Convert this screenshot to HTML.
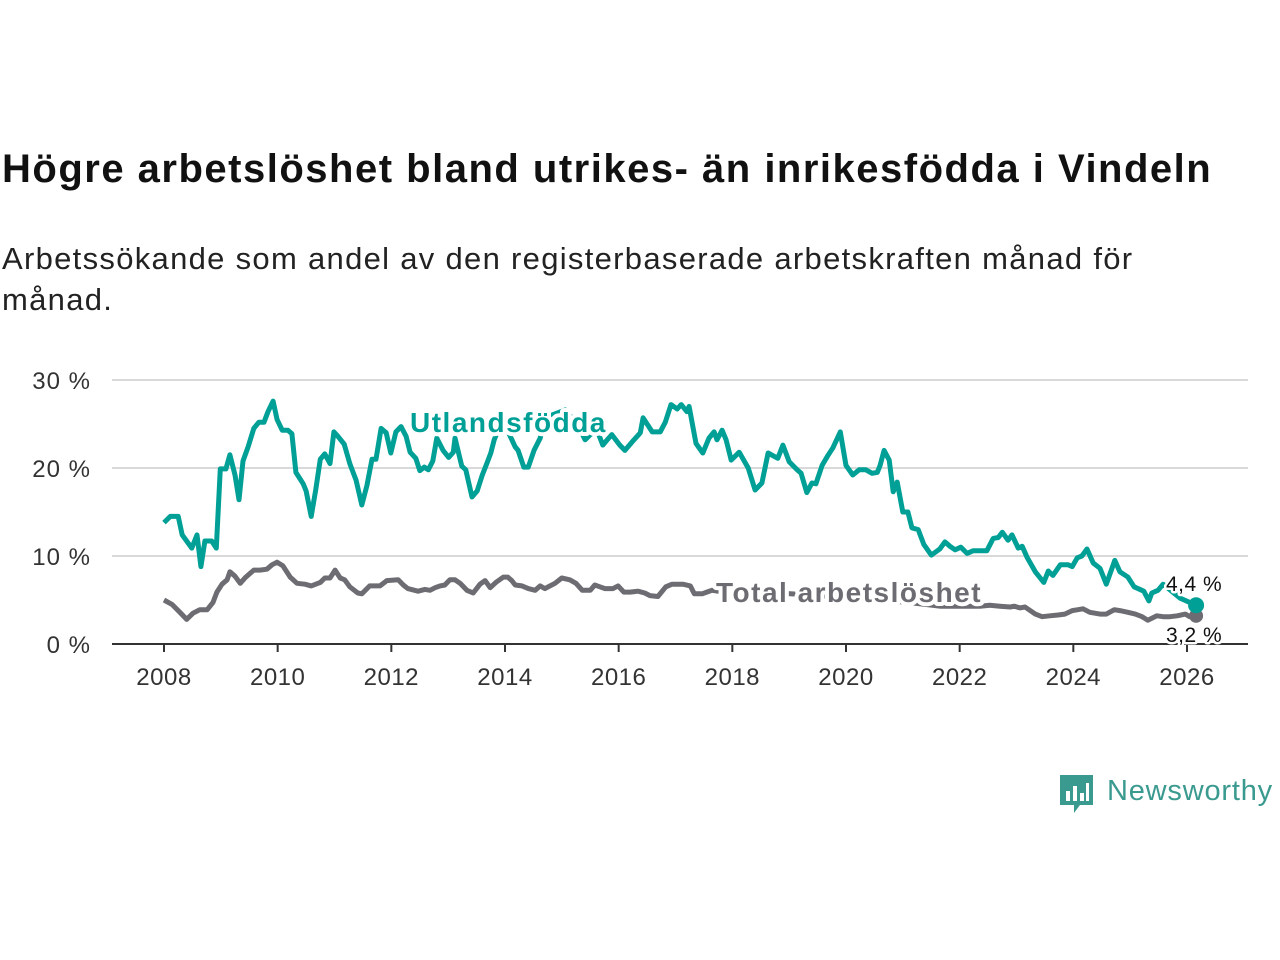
<!DOCTYPE html>
<html><head><meta charset="utf-8"><style>
body{margin:0;width:1280px;height:960px;background:#fff;font-family:"Liberation Sans",sans-serif;overflow:hidden;position:relative}
h1{position:absolute;left:2px;top:147px;margin:0;font-size:40px;letter-spacing:1.5px;font-weight:bold;color:#111;white-space:nowrap}
p{position:absolute;left:2px;top:238px;margin:0;font-size:31px;letter-spacing:1.3px;line-height:41px;color:#222;width:1185px}
</style></head><body>
<h1>Högre arbetslöshet bland utrikes- än inrikesfödda i Vindeln</h1>
<p>Arbetssökande som andel av den registerbaserade arbetskraften månad för månad.</p>
<svg id="chart" width="1280" height="960" style="position:absolute;left:0;top:0"></svg>
<script>
// years since 2008 and unemployment %
const yearsForeign=[0,.11,.25,.32,.49,.58,.65,.72,.84,.92,.99,1.09,1.16,1.25,1.32,1.39,1.48,1.58,1.67,1.76,1.83,1.92,1.99,2.08,2.18,2.25,2.32,2.45,2.50,2.59,2.67,2.75,2.83,2.92,2.99,3.06,3.17,3.27,3.38,3.48,3.57,3.66,3.73,3.82,3.91,3.99,4.08,4.17,4.26,4.33,4.43,4.50,4.58,4.65,4.73,4.80,4.91,5.01,5.09,5.12,5.24,5.31,5.42,5.51,5.60,5.68,5.75,5.81,5.88,6.00,6.18,6.23,6.33,6.41,6.51,6.62,6.70,7.06,7.28,7.41,7.50,7.62,7.72,7.80,7.88,8.02,8.11,8.27,8.38,8.43,8.59,8.73,8.82,8.92,9.03,9.10,9.20,9.24,9.36,9.48,9.59,9.68,9.73,9.82,9.89,9.98,10.12,10.28,10.40,10.52,10.63,10.80,10.89,11.00,11.14,11.21,11.31,11.40,11.47,11.58,11.68,11.77,11.90,12.00,12.12,12.23,12.35,12.46,12.55,12.60,12.67,12.76,12.83,12.90,13.00,13.09,13.16,13.27,13.37,13.50,13.65,13.74,13.83,13.92,14.02,14.13,14.24,14.48,14.59,14.68,14.75,14.85,14.92,15.03,15.10,15.19,15.33,15.48,15.56,15.64,15.77,15.91,15.98,16.07,16.15,16.24,16.35,16.47,16.58,16.73,16.82,16.96,17.07,17.24,17.33,17.38,17.49,17.58,17.88,18.16];
const valuesForeign=[13.8,14.5,14.5,12.4,10.9,12.4,8.8,11.7,11.7,10.9,19.9,19.9,21.5,19.2,16.4,20.8,22.4,24.5,25.2,25.2,26.4,27.6,25.5,24.3,24.3,23.9,19.5,18.2,17.4,14.5,17.5,21.0,21.6,20.5,24.1,23.6,22.7,20.5,18.6,15.8,18.0,21.0,21.0,24.5,24.0,21.7,24.1,24.7,23.6,21.8,21.1,19.7,20.1,19.8,20.8,23.4,22.0,21.2,21.8,23.4,20.2,19.8,16.7,17.4,19.2,20.5,21.7,23.2,24.3,24.9,22.4,22.0,20.1,20.1,22.0,23.4,25.7,26.6,24.9,23.2,23.8,24.3,22.6,23.2,23.8,22.6,22.0,23.2,24.0,25.7,24.1,24.1,25.2,27.2,26.7,27.2,26.4,27.0,22.8,21.7,23.4,24.1,23.2,24.3,23.2,20.9,21.8,20.0,17.5,18.3,21.7,21.1,22.6,20.7,19.8,19.4,17.2,18.3,18.2,20.3,21.4,22.3,24.1,20.3,19.2,19.8,19.8,19.4,19.5,20.3,22.0,20.9,17.3,18.4,15.0,15.0,13.2,13.0,11.3,10.1,10.8,11.6,11.1,10.7,11.0,10.3,10.6,10.6,12.0,12.1,12.7,11.8,12.4,10.9,11.1,9.8,8.2,7.0,8.3,7.8,9.0,9.0,8.8,9.8,10.0,10.8,9.2,8.6,6.8,9.5,8.2,7.6,6.5,6.0,4.9,5.8,6.1,6.8,5.2,4.4];
const yearsTotal=[0,.14,.28,.40,.51,.63,.76,.86,.93,1.02,1.11,1.16,1.25,1.34,1.44,1.58,1.69,1.81,1.90,1.99,2.09,2.22,2.34,2.48,2.59,2.75,2.83,2.92,3.01,3.10,3.18,3.27,3.41,3.48,3.62,3.80,3.92,4.12,4.21,4.29,4.47,4.59,4.68,4.77,4.86,4.94,5.03,5.12,5.21,5.33,5.44,5.56,5.65,5.74,5.84,5.97,6.05,6.12,6.18,6.30,6.41,6.53,6.62,6.70,6.88,7.00,7.14,7.25,7.36,7.50,7.58,7.67,7.76,7.90,7.99,8.09,8.20,8.34,8.46,8.55,8.69,8.83,8.94,9.13,9.26,9.33,9.47,9.55,9.64,9.96,10.49,11.02,11.54,12.07,12.60,13.13,13.65,14.01,14.18,14.36,14.53,14.71,14.89,14.96,15.06,15.15,15.33,15.45,15.59,15.73,15.85,15.98,16.08,16.17,16.29,16.47,16.58,16.72,16.82,16.96,17.09,17.21,17.31,17.47,17.58,17.70,17.83,17.97,18.05,18.16];
const valuesTotal=[5.0,4.5,3.6,2.8,3.5,3.9,3.9,4.7,5.9,6.8,7.3,8.2,7.7,6.9,7.6,8.4,8.4,8.5,9.0,9.3,8.9,7.6,6.9,6.8,6.6,7.0,7.5,7.5,8.4,7.5,7.3,6.5,5.8,5.7,6.6,6.6,7.2,7.3,6.7,6.3,6.0,6.2,6.1,6.4,6.6,6.7,7.3,7.3,6.9,6.1,5.8,6.8,7.2,6.4,7.0,7.6,7.6,7.2,6.7,6.6,6.3,6.1,6.6,6.3,6.9,7.5,7.3,6.9,6.1,6.1,6.7,6.5,6.3,6.3,6.6,5.9,5.9,6.0,5.8,5.5,5.4,6.5,6.8,6.8,6.6,5.7,5.7,5.9,6.1,5.8,5.9,5.7,5.5,5.2,5.0,4.7,4.3,4.3,4.3,4.3,4.4,4.3,4.2,4.3,4.1,4.2,3.4,3.1,3.2,3.3,3.4,3.8,3.9,4.0,3.6,3.4,3.4,3.9,3.8,3.6,3.4,3.1,2.7,3.2,3.1,3.1,3.2,3.4,3.1,3.2];
const yTicks=[0,10,20,30];
const yTickLabels=["0 %","10 %","20 %","30 %"];
const xTicks=[2008,2010,2012,2014,2016,2018,2020,2022,2024,2026];

const NS="http://www.w3.org/2000/svg",svg=document.getElementById('chart');
const X=y=>164+(y-2008)*(1023/18);
const Y=v=>644-v*8.8;
function el(t,a,txt){const e=document.createElementNS(NS,t);for(const k in a)e.setAttribute(k,a[k]);if(txt!=null)e.textContent=txt;svg.appendChild(e);return e;}
yTicks.forEach((v,i)=>{
  if(v>0){const g=el('line',{x1:112,x2:1248,y1:Y(v),y2:Y(v),stroke:'#d9d9d9','stroke-width':2});
  
  }
  const t=el('text',{x:91,y:Y(v)+9,'text-anchor':'end','font-size':24,'letter-spacing':1,fill:'#333'},yTickLabels[i]);
  
  
});
const ax=el('line',{x1:112,x2:1248,y1:644,y2:644,stroke:'#333','stroke-width':2});


xTicks.forEach(yr=>{
  const tk=el('line',{x1:X(yr),x2:X(yr),y1:644,y2:652,stroke:'#333','stroke-width':2});
  
  
  const t=el('text',{x:X(yr),y:685,'text-anchor':'middle','font-size':24,'letter-spacing':0.5,fill:'#333'},String(yr));
  
  
});
function line(xs,vs,color,name){
  const d=xs.map((t,i)=>(i?'L':'M')+X(2008+t).toFixed(1)+','+Y(vs[i]).toFixed(1)).join('');
  const p=el('path',{d:d,fill:'none',stroke:color,'stroke-width':5,'stroke-linejoin':'round'});
  
  
}
line(yearsTotal,valuesTotal,'#6d6c72','total-line');
line(yearsForeign,valuesForeign,'#00a096','foreign-born-line');
const lastG=yearsForeign.length-1,lastT=yearsTotal.length-1;
const d1=el('circle',{cx:X(2008+yearsTotal[lastT]),cy:Y(valuesTotal[lastT]),r:7,fill:'#6d6c72'});


const d2=el('circle',{cx:X(2008+yearsForeign[lastG]),cy:Y(valuesForeign[lastG]),r:8,fill:'#00a096'});


function lab(x,y,txt,color,size,bold,ls,name){
  const t=el('text',{x:x,y:y,'font-size':size,'letter-spacing':ls,'font-weight':bold?'bold':'normal',fill:color,stroke:'#fff','stroke-width':bold?8:5,'paint-order':'stroke','stroke-linejoin':'round'},txt);
  
  
}
lab(410,432,'Utlandsfödda','#00a096',28,true,1.5,'foreign-born-label');
lab(716,602,'Total arbetslöshet','#6d6c72',28,true,1.5,'total-label');
lab(1166,591,String(valuesForeign[lastG]).replace('.',',')+' %','#111',21,false,0.5,'foreign-end-value');
lab(1166,642,'3,2 %','#111',21,false,0.5,'total-end-value');
</script>
<div style="position:absolute;left:1060px;top:775px;">
<svg width="36" height="42" style="position:absolute;left:0;top:0"><path d="M0 0H33V30H20L14 38V30H0Z" fill="#3a9a8f"/><rect x="6" y="16" width="4" height="10" fill="#fff"/><rect x="13" y="11" width="4" height="15" fill="#fff"/><rect x="20" y="18" width="4" height="8" fill="#fff"/><rect x="26" y="8" width="3" height="18" fill="#fff"/></svg>
<span style="position:absolute;left:47px;top:0;font-size:29px;letter-spacing:0.8px;color:#3a9a8f;white-space:nowrap">Newsworthy</span>
</div>
</body></html>
